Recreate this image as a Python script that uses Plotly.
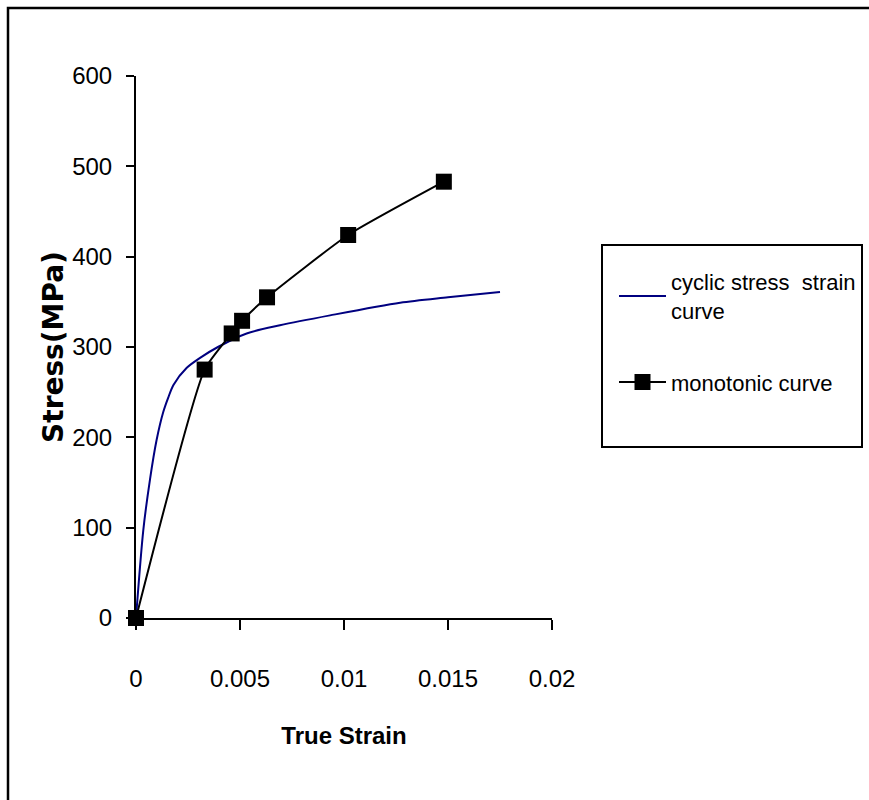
import plotly.graph_objects as go

# Cyclic stress-strain curve
cyclic_strain = [0, 0.00035, 0.00067, 0.00099, 0.00131, 0.00155, 0.0018, 0.00244, 0.00308,
                 0.00394, 0.00532, 0.00692, 0.00933, 0.0127, 0.0150, 0.0175]
cyclic_stress = [0, 97, 153, 197, 228, 244, 258, 277, 288,
                 300, 315, 324, 335, 349, 355, 361]

# Monotonic curve
mono_strain = [0, 0.0033, 0.0046, 0.0051, 0.0063, 0.0102, 0.0148]
mono_stress = [0, 275, 315, 329, 355, 424, 483]

x_ticks = [0, 0.005, 0.01, 0.015, 0.02]
x_tick_labels = ["0", "0.005", "0.01", "0.015", "0.02"]
y_ticks = [0, 100, 200, 300, 400, 500, 600]

FONT = "Liberation Sans, Arial, sans-serif"

fig = go.Figure()
fig.add_trace(go.Scatter(
    x=cyclic_strain, y=cyclic_stress, mode="lines",
    name="cyclic stress  strain<br>curve",
    line=dict(color="#000080", width=2, shape="spline", smoothing=0.8),
    legendgroup="a", cliponaxis=False,
))
fig.add_trace(go.Scatter(
    x=mono_strain, y=mono_stress, mode="lines+markers",
    name="monotonic curve",
    line=dict(color="black", width=2, shape="spline", smoothing=0.5),
    marker=dict(symbol="square", size=16, color="black"),
    legendgroup="b", cliponaxis=False,
))

W, H = 869, 800
L, R, T, B = 136, 317, 76, 182
pw, ph = W - L - R, H - T - B

def px(xp):
    return (xp - L) / pw

def py(yp):
    return (H - B - yp) / ph

shapes = [
    # outer frame (cut off at right and bottom)
    dict(type="rect", xref="paper", yref="paper",
         x0=px(8), x1=px(880), y0=py(812), y1=py(8),
         line=dict(color="black", width=2.5), fillcolor="rgba(0,0,0,0)", layer="below"),
    # legend box
    dict(type="rect", xref="paper", yref="paper",
         x0=px(602), x1=px(862), y0=py(447), y1=py(245),
         line=dict(color="black", width=2), fillcolor="rgba(0,0,0,0)"),
]

fig.update_layout(
    width=W, height=H,
    margin=dict(l=L, r=R, t=T, b=B, autoexpand=False),
    paper_bgcolor="white", plot_bgcolor="white",
    showlegend=True,
    legend=dict(
        x=px(614), y=py(261), xanchor="left", yanchor="top",
        bgcolor="rgba(0,0,0,0)", borderwidth=0,
        font=dict(family=FONT, size=22, color="black"),
        tracegroupgap=40, itemwidth=47,
    ),
    shapes=shapes,
    xaxis=dict(
        range=[0, 0.02], tickvals=x_ticks, ticktext=x_tick_labels,
        showgrid=False, zeroline=False, showline=True, linecolor="black", linewidth=2,
        ticks="outside", ticklen=10, tickwidth=2, tickcolor="black",
        tickfont=dict(family=FONT, size=24, color="black"),
        ticklabelstandoff=28,
        title=dict(text="<b>True Strain</b>", font=dict(family=FONT, size=24, color="black"),
                   standoff=36),
        anchor="y", position=0,
    ),
    yaxis=dict(
        range=[0, 600], tickvals=y_ticks,
        showgrid=False, zeroline=False, showline=True, linecolor="black", linewidth=2,
        ticks="outside", ticklen=8, tickwidth=2, tickcolor="black",
        tickfont=dict(family=FONT, size=24, color="black"),
        ticklabelstandoff=9,
        title=dict(text="<b>Stress(MPa)</b>", font=dict(family="DejaVu Sans", size=28, color="black"),
                   standoff=0),
    ),
)

fig.write_html("out.html")
